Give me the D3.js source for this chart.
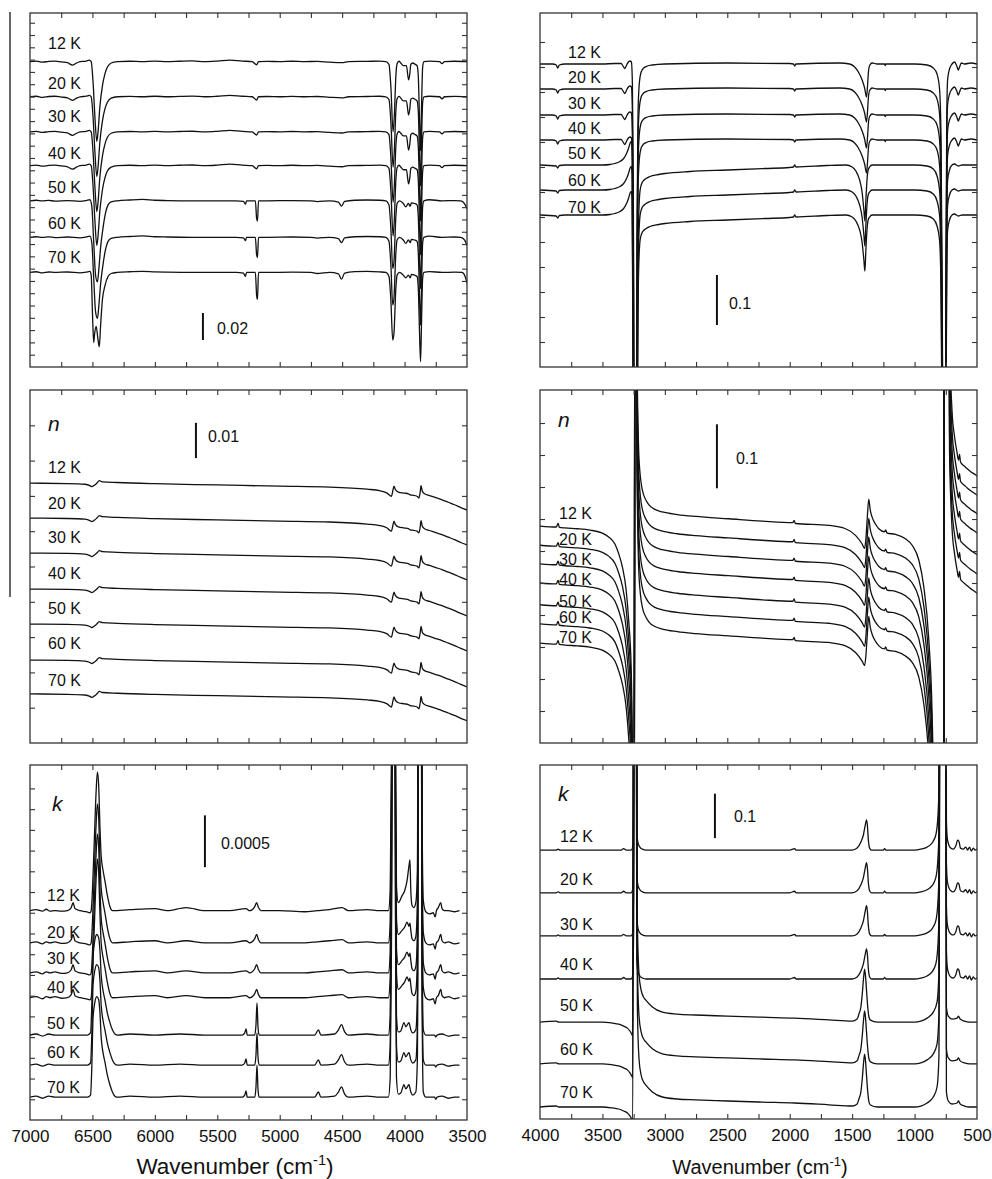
<!DOCTYPE html>
<html><head><meta charset="utf-8">
<script src="https://cdn.jsdelivr.net/npm/d3@7"></script>
<style>
body{margin:0;background:#fff;}
svg{display:block;font-family:"Liberation Sans",Arial,sans-serif;}
</style></head><body>
<svg id="chart" width="992" height="1179"></svg>
<script>
// ---------------- DATA ----------------
const TEMPS = ["12 K","20 K","30 K","40 K","50 K","60 K","70 K"];
const LEFT_TICK_LABELS = [7000,6500,6000,5500,5000,4500,4000,3500];
const RIGHT_TICK_LABELS = [4000,3500,3000,2500,2000,1500,1000,500];

// Panel A: transmission-like spectra, 7000-3500 cm-1 (offset for each temperature)
const A_offsets = [0.226,0.200,0.174,0.149,0.123,0.096,0.070];
const A_low = [[7000,0],[6950,0.0004],[6900,-0.0004],[6850,0.0002],[6800,0.0004],[6750,-0.0002],[6700,-0.0008],[6660,-0.0026],[6630,-0.0012],[6600,0],[6550,0.0004],[6525,0.0011],[6510,0],[6495,-0.015],[6480,-0.041],[6465,-0.059],[6455,-0.052],[6440,-0.033],[6420,-0.018],[6400,-0.009],[6380,-0.004],[6350,-0.001],[6300,0],[6200,0.0003],[6100,0],[6000,0.0004],[5900,0],[5800,0.0003],[5700,0.0005],[5600,0],[5500,0.0004],[5400,0.0011],[5300,0.0004],[5220,0],[5185,-0.0024],[5170,0],[5100,0.0002],[5000,0],[4900,0.0003],[4800,0],[4700,0.0002],[4600,-0.0004],[4500,-0.0008],[4450,0],[4300,0.0002],[4200,0.0004],[4150,0],[4125,-0.002],[4110,-0.018],[4092,-0.052],[4082,-0.040],[4070,-0.011],[4060,-0.0015],[4045,0.0003],[4030,-0.001],[4010,-0.003],[3985,-0.003],[3968,-0.0135],[3958,-0.009],[3950,-0.002],[3935,-0.001],[3915,-0.002],[3900,-0.003],[3890,-0.011],[3880,-0.044],[3872,-0.066],[3865,-0.037],[3855,-0.004],[3845,0],[3800,0.0004],[3720,0],[3700,-0.0015],[3680,0],[3600,0.0003],[3500,0]];
const A_mid = [[7000,0],[6950,0.0004],[6900,0],[6850,0.0003],[6800,-0.0002],[6700,0.0002],[6600,-0.0004],[6550,0.0002],[6520,0.0008],[6505,-0.004],[6490,-0.03],[6475,-0.055],[6460,-0.060],[6448,-0.05],[6435,-0.035],[6415,-0.02],[6395,-0.009],[6375,-0.003],[6350,-0.0008],[6300,0],[6200,0.0006],[6100,0.001],[6000,0.0004],[5900,0.0002],[5700,0],[5500,0],[5350,0],[5290,-0.0005],[5275,-0.0025],[5265,0],[5195,0],[5185,-0.013],[5178,-0.015],[5170,0],[5100,0],[4900,0.0002],[4750,0],[4700,-0.0006],[4600,0],[4530,-0.001],[4505,-0.004],[4480,-0.0005],[4400,0.0004],[4300,0.0006],[4200,0.0004],[4150,0],[4125,-0.003],[4110,-0.02],[4095,-0.05],[4085,-0.045],[4070,-0.012],[4060,-0.002],[4040,0],[4010,-0.002],[3990,-0.0045],[3970,-0.002],[3955,-0.004],[3945,-0.0015],[3920,-0.002],[3900,-0.003],[3890,-0.012],[3880,-0.045],[3872,-0.065],[3865,-0.04],[3855,-0.004],[3845,0],[3800,0.0008],[3700,0],[3600,0.0002],[3550,0],[3520,-0.002],[3500,-0.006]];
const A_high = [[7000,0],[6950,0.0005],[6900,-0.0003],[6850,0.0003],[6800,0],[6700,0.0003],[6600,-0.0003],[6550,0.0002],[6520,0.0008],[6510,-0.002],[6498,-0.035],[6490,-0.052],[6482,-0.045],[6470,-0.04],[6455,-0.05],[6445,-0.055],[6435,-0.04],[6420,-0.02],[6400,-0.01],[6375,-0.003],[6350,-0.0008],[6300,0],[6200,0.0005],[6100,0.0008],[6000,0.0004],[5900,0.0002],[5700,0],[5500,0],[5350,0],[5290,-0.0005],[5275,-0.003],[5265,0],[5195,0],[5185,-0.017],[5178,-0.020],[5170,0],[5100,0],[4900,0.0002],[4750,0],[4700,-0.0008],[4600,0],[4530,-0.001],[4505,-0.005],[4480,-0.0005],[4400,0.0006],[4300,0.0008],[4200,0.0004],[4150,0],[4125,-0.003],[4110,-0.02],[4095,-0.05],[4085,-0.045],[4070,-0.012],[4060,-0.002],[4040,0],[4010,-0.002],[3990,-0.004],[3970,-0.002],[3955,-0.004],[3945,-0.0015],[3920,-0.002],[3900,-0.003],[3890,-0.012],[3880,-0.045],[3872,-0.066],[3865,-0.04],[3855,-0.004],[3845,0],[3800,0.0006],[3700,0],[3600,0.0002],[3540,0],[3515,-0.003],[3500,-0.008]];
const A_profileOf = ["low","low","low","low","mid","mid","high"];

// Panel B: transmission-like spectra, 4000-500 cm-1
const B_offsets = [0.606,0.556,0.504,0.454,0.404,0.354,0.304];
const B_low = [[4000,0],[3900,0],[3870,-0.002],[3858,-0.008],[3845,-0.002],[3800,0],[3500,0],[3400,0.001],[3350,0.001],[3335,-0.004],[3322,-0.009],[3308,-0.003],[3295,0.003],[3280,0.006],[3268,0.004],[3260,-0.04],[3252,-0.3],[3245,-0.9],[3228,-0.9],[3222,-0.3],[3215,-0.1],[3205,-0.04],[3190,-0.016],[3170,-0.008],[3140,-0.004],[3100,-0.002],[3000,0],[2500,0.002],[2000,0.001],[1970,0],[1960,-0.004],[1950,0],[1600,0.002],[1520,0],[1480,-0.006],[1450,-0.016],[1420,-0.032],[1400,-0.048],[1385,-0.066],[1377,-0.045],[1368,-0.012],[1358,-0.002],[1340,0.002],[1300,0],[1240,0],[1235,-0.003],[1230,0],[1000,0],[900,-0.002],[850,-0.008],[820,-0.02],[800,-0.05],[788,-0.15],[778,-0.5],[770,-0.9],[752,-0.9],[748,-0.4],[742,-0.1],[735,-0.03],[720,-0.01],[700,0],[680,0.004],[662,-0.004],[650,-0.012],[640,-0.006],[625,0.002],[600,0],[550,0.002],[500,0]];
const B_high = [[4000,0],[3870,-0.002],[3858,-0.006],[3845,-0.001],[3800,0],[3500,0],[3440,0.001],[3400,0.003],[3360,0.007],[3330,0.013],[3305,0.024],[3290,0.034],[3278,0.044],[3268,0.047],[3262,0.03],[3255,-0.3],[3248,-0.9],[3225,-0.9],[3218,-0.3],[3210,-0.11],[3198,-0.05],[3180,-0.034],[3150,-0.027],[3120,-0.023],[3050,-0.019],[3000,-0.017],[2800,-0.013],[2500,-0.01],[2200,-0.007],[2000,-0.005],[1970,-0.004],[1960,0],[1950,-0.004],[1700,-0.001],[1550,0],[1500,-0.004],[1470,-0.012],[1440,-0.03],[1420,-0.055],[1406,-0.09],[1398,-0.112],[1390,-0.07],[1381,-0.03],[1372,-0.01],[1360,-0.004],[1340,0],[1300,0],[1000,0],[900,-0.002],[850,-0.008],[820,-0.022],[800,-0.05],[788,-0.15],[778,-0.5],[770,-0.9],[752,-0.9],[748,-0.4],[742,-0.1],[735,-0.03],[720,-0.01],[700,0],[680,0.002],[650,-0.002],[620,0],[500,0]];
const B_profileOf = ["low","low","low","low","high","high","high"];

// Panel C: refractive index n, 7000-3500 cm-1
const C_offsets = [0.0736,0.0637,0.0538,0.0436,0.0337,0.0235,0.0139];
const C_all = [[7000,0],[6700,-0.0001],[6560,-0.0003],[6520,-0.0007],[6505,-0.001],[6490,-0.0007],[6465,0],[6445,0.0007],[6420,0.0004],[6300,0.0002],[6000,-0.00014],[5500,-0.0005],[5000,-0.00085],[4600,-0.0011],[4300,-0.0017],[4200,-0.0021],[4140,-0.0028],[4105,-0.0037],[4095,-0.0023],[4085,-0.00085],[4075,-0.0017],[4050,-0.0025],[4000,-0.0028],[3970,-0.003],[3955,-0.0033],[3940,-0.0034],[3900,-0.0037],[3885,-0.0042],[3875,-0.0025],[3868,-0.0007],[3858,-0.0023],[3840,-0.003],[3800,-0.0035],[3750,-0.0041],[3700,-0.0047],[3650,-0.0054],[3600,-0.0061],[3550,-0.0069],[3500,-0.0076]];

// Panel D: refractive index n, 4000-500 cm-1
const D_offsets = [0.339,0.309,0.280,0.250,0.216,0.186,0.156];
const D_all = [[4000,0],[3870,-0.0015],[3855,0.004],[3845,-0.002],[3800,-0.003],[3700,-0.0042],[3600,-0.0063],[3500,-0.011],[3450,-0.017],[3400,-0.028],[3370,-0.043],[3340,-0.064],[3310,-0.1],[3290,-0.147],[3270,-0.22],[3258,-0.41],[3248,-0.8],[3238,0.8],[3232,0.5],[3222,0.25],[3210,0.12],[3195,0.075],[3180,0.056],[3150,0.04],[3127,0.033],[3080,0.026],[3020,0.022],[2900,0.018],[2754,0.015],[2487,0.0114],[2220,0.0078],[1975,0.0055],[1965,0.009],[1955,0.004],[1686,0.0011],[1553,-0.0042],[1473,-0.0145],[1420,-0.028],[1400,-0.035],[1390,-0.02],[1380,0.009],[1367,0.042],[1355,0.025],[1340,0.014],[1310,0.002],[1286,-0.0042],[1240,-0.009],[1232,-0.006],[1220,-0.011],[1153,-0.013],[1073,-0.02],[1019,-0.03],[966,-0.053],[926,-0.095],[886,-0.178],[860,-0.29],[845,-0.45],[830,-0.8],[768,-0.8],[762,0.8],[730,0.8],[720,0.3],[700,0.18],[680,0.14],[660,0.115],[648,0.103],[640,0.112],[632,0.1],[610,0.095],[592,0.092],[550,0.085],[512,0.08],[500,0.078]];

// Panel E: extinction coefficient k, 7000-3560 cm-1
const E_offsets = [0.00202,0.00171,0.00142,0.00118,0.00082,0.00053,0.00022];
const E_12 = [[7000,0],[6950,0.00001],[6900,-0.000005],[6870,0.000014],[6840,-0.000005],[6800,0],[6750,-0.000005],[6700,0],[6670,0.00003],[6655,0.000077],[6640,0.00002],[6600,0],[6550,-0.00001],[6520,-0.00002],[6510,0],[6500,0.00019],[6485,0.00068],[6470,0.00116],[6460,0.00134],[6450,0.00121],[6440,0.00082],[6430,0.00053],[6415,0.00039],[6400,0.00029],[6380,0.000145],[6360,0.00004],[6340,0],[6200,0.00001],[6000,0.00002],[5900,0],[5750,0.00003],[5600,0],[5400,0],[5270,0.00002],[5240,0],[5200,0.00004],[5185,0.000077],[5170,0.00003],[5150,0],[5000,0],[4800,-0.00001],[4700,0],[4600,0.00001],[4500,0.00003],[4450,0],[4300,0.00001],[4200,0],[4130,0],[4115,0.00019],[4105,0.00145],[4095,0.005],[4080,0.005],[4072,0.00145],[4065,0.00024],[4050,0.000077],[4020,0.000145],[4000,0.00019],[3980,0.00029],[3965,0.00043],[3957,0.00049],[3950,0.00019],[3940,0.00005],[3925,0.00003],[3910,0.000077],[3897,0.00039],[3888,0.005],[3868,0.005],[3860,0.00097],[3850,0.0001],[3830,-0.00001],[3800,-0.00003],[3770,-0.00002],[3755,-0.00006],[3745,0],[3730,0.00003],[3710,0.000077],[3700,0.00002],[3680,0],[3650,0],[3600,-0.00001],[3560,0]];
const E_low = [[7000,0],[6950,0.00001],[6900,-0.00001],[6870,0.00001],[6840,0],[6800,0.00001],[6750,-0.000005],[6700,0],[6670,0.00003],[6655,0.00008],[6640,0.00002],[6600,0],[6550,-0.00001],[6520,-0.00002],[6510,0],[6500,0.00019],[6485,0.00068],[6470,0.00116],[6460,0.00134],[6450,0.00121],[6440,0.00082],[6430,0.00053],[6415,0.00039],[6400,0.00029],[6380,0.000145],[6360,0.00004],[6340,0],[6200,0.00001],[6000,0.00002],[5900,0],[5750,0.00002],[5600,0],[5400,0],[5270,0.00002],[5240,0],[5200,0.00004],[5185,0.00008],[5170,0.00003],[5150,0],[5000,0],[4800,0],[4700,0.00001],[4600,0.00002],[4500,0.00003],[4450,0],[4300,0.00001],[4200,0],[4130,0],[4115,0.00019],[4105,0.00145],[4095,0.005],[4080,0.005],[4072,0.00145],[4065,0.00024],[4050,0.00008],[4020,0.00012],[4000,0.00015],[3980,0.0002],[3965,0.00016],[3957,0.00019],[3950,0.00012],[3940,0.00004],[3925,0.00002],[3910,0.00006],[3897,0.00039],[3888,0.005],[3868,0.005],[3860,0.00097],[3850,0.0001],[3830,0],[3800,-0.00002],[3770,-0.00001],[3755,-0.00006],[3745,0],[3730,0.00002],[3710,0.00008],[3700,0.00002],[3680,0],[3650,0.00001],[3600,-0.00001],[3560,0]];
const E_high = [[7000,0],[6950,0.00001],[6900,-0.00001],[6850,0.00001],[6800,0],[6700,0],[6600,0],[6540,0],[6515,0.00002],[6505,0.00029],[6495,0.00077],[6480,0.00092],[6465,0.00097],[6450,0.00094],[6440,0.00082],[6430,0.00058],[6415,0.00043],[6400,0.00034],[6380,0.00021],[6360,0.00012],[6340,0.00005],[6320,0.00001],[6300,0],[6200,0.00001],[6000,0],[5800,0.00001],[5600,0],[5400,0],[5300,0],[5280,0.00002],[5270,0.00006],[5260,0],[5200,0],[5190,0.0001],[5182,0.00031],[5174,0.00008],[5165,0],[5000,0],[4800,0],[4720,0],[4690,0.00005],[4670,0],[4560,0.00001],[4530,0.00005],[4505,0.0001],[4480,0.00003],[4450,0],[4300,0.00001],[4200,0],[4130,0],[4115,0.00019],[4105,0.00145],[4095,0.005],[4080,0.005],[4072,0.00145],[4065,0.00019],[4050,0.00003],[4030,0.00004],[4005,0.00012],[3990,0.00008],[3965,0.00012],[3950,0.00005],[3935,0.00002],[3910,0.00005],[3897,0.00039],[3888,0.005],[3868,0.005],[3860,0.00097],[3850,0.00005],[3830,0],[3760,0],[3750,-0.00002],[3740,0],[3700,0.00001],[3650,-0.00001],[3600,0],[3560,0]];
const E_profileOf = ["12","low","low","low","high","high","high"];

// Panel F: extinction coefficient k, 4000-500 cm-1
const F_offsets = [0.605,0.509,0.412,0.315,0.218,0.124,0.027];
const F_low = [[4000,0],[3870,0],[3855,0.0022],[3840,0],[3350,0],[3330,0.0034],[3310,0],[3270,0],[3258,0.0068],[3250,0.11],[3245,1.2],[3232,1.2],[3225,0.045],[3215,0.016],[3200,0.0068],[3180,0.0022],[3150,0],[2000,0],[1960,0.0034],[1950,0],[1500,0],[1460,0.0045],[1430,0.018],[1410,0.034],[1395,0.056],[1385,0.068],[1378,0.056],[1370,0.0225],[1360,0.0045],[1345,0],[1250,0],[1240,0.0034],[1230,0],[1000,0],[950,0.0022],[900,0.0068],[860,0.016],[830,0.034],[815,0.068],[805,0.135],[795,1.2],[750,1.2],[745,0.068],[738,0.027],[725,0.011],[710,0.0045],[690,0.0022],[670,0.009],[655,0.0225],[645,0.02],[632,0.0045],[610,0.0022],[590,0.0068],[575,0],[560,0.0068],[545,-0.0022],[530,0.0045],[515,0],[500,0.0022]];
const F_high = [[4000,0],[3870,0.0022],[3850,0],[3500,0],[3420,-0.0022],[3370,-0.0045],[3330,-0.009],[3300,-0.0135],[3280,-0.02],[3265,-0.027],[3257,-0.0315],[3250,1.2],[3230,1.2],[3220,0.225],[3207,0.108],[3190,0.072],[3170,0.056],[3154,0.05],[3100,0.034],[3020,0.0225],[2900,0.018],[2754,0.016],[2500,0.0135],[2220,0.011],[1960,0.009],[1686,0.005],[1500,0.0022],[1460,0.0068],[1446,0.018],[1430,0.034],[1419,0.063],[1408,0.101],[1400,0.119],[1392,0.101],[1385,0.072],[1375,0.034],[1365,0.011],[1353,0.0045],[1300,0],[1000,0],[950,0.0022],[900,0.009],[850,0.0225],[820,0.045],[805,0.1125],[795,1.2],[750,1.2],[745,0.034],[730,0.0135],[700,0.0068],[660,0.009],[648,0.0135],[635,0.0068],[600,0.0022],[560,0],[500,0]];
const F_profileOf = ["low","low","low","low","high","high","high"];

// ---------------- LAYOUT ----------------
const svg = d3.select("#chart");
const FONT = '"Liberation Sans", Arial, sans-serif';

const panels = [
  {id:"A", left:30, right:467, top:13, bottom:367, wn:[7000,3500], yDomain:[0,0.262], tickStep:0.0091,
   offsets:A_offsets, profiles:{low:A_low,mid:A_mid,high:A_high}, profileOf:A_profileOf,
   labelX:48, labelDy:[-18,-14,-16,-12,-14,-14,-15],
   bar:{w:5615, y0:0.02, value:0.02, text:"0.02", dx:14, dy:2}, sym:null},
  {id:"B", left:540, right:977, top:13, bottom:367, wn:[4000,500], yDomain:[0,0.708], tickStep:0.05,
   offsets:B_offsets, profiles:{low:B_low,high:B_high}, profileOf:B_profileOf,
   labelX:568, labelDy:[-12,-12,-12,-12,-12,-10,-8],
   bar:{w:2583, y0:0.084, value:0.1, text:"0.1", dx:12, dy:3}, sym:null},
  {id:"C", left:30, right:467, top:390, bottom:743, wn:[7000,3500], yDomain:[0,0.1], tickStep:0.01,
   offsets:C_offsets, profiles:{all:C_all}, profileOf:Array(7).fill("all"),
   labelX:48, labelDy:[-16,-15,-16,-16,-16,-17,-14],
   bar:{w:5671, y0:0.0807, value:0.01, text:"0.01", dx:12, dy:-4}, sym:{t:"n", x:48, y:423}},
  {id:"D", left:540, right:977, top:390, bottom:743, wn:[4000,500], yDomain:[0,0.5516], tickStep:0.05,
   offsets:D_offsets, profiles:{all:D_all}, profileOf:Array(7).fill("all"),
   labelX:559, labelDy:[-13,-6,-5,-4,-4,-7,-6],
   bar:{w:2583, y0:0.398, value:0.1, text:"0.1", dx:19, dy:2}, sym:{t:"n", x:558, y:419}},
  {id:"E", left:30, right:467, top:765, bottom:1120, wn:[7000,3500], yDomain:[0,0.003426], tickStep:0.0002,
   offsets:E_offsets, profiles:{"12":E_12,low:E_low,high:E_high}, profileOf:E_profileOf,
   labelX:47, labelDy:[-15,-11,-15,-10,-12,-13,-10],
   bar:{w:5599, y0:0.00244, value:0.0005, text:"0.0005", dx:16, dy:2}, sym:{t:"k", x:52, y:803},
   tickLabels:LEFT_TICK_LABELS, title:{cx:235, size:22.5}},
  {id:"F", left:540, right:977, top:765, bottom:1119, wn:[4000,500], yDomain:[0,0.7965], tickStep:0.7,
   offsets:F_offsets, profiles:{low:F_low,high:F_high}, profileOf:F_profileOf,
   labelX:560, labelDy:[-14,-14,-12,-15,-17,-15,-15],
   bar:{w:2599, y0:0.632, value:0.1, text:"0.1", dx:19, dy:0}, sym:{t:"k", x:558, y:793},
   tickLabels:RIGHT_TICK_LABELS, title:{cx:760, size:20}}
];

// stray vertical rule at the far left of the figure
svg.append("line").attr("x1",10).attr("x2",10).attr("y1",12).attr("y2",597)
  .attr("stroke","#000").attr("stroke-width",1.2);

const defs = svg.append("defs");

panels.forEach(cfg => {
  const x = d3.scaleLinear().domain(cfg.wn).range([cfg.left, cfg.right]);
  const y = d3.scaleLinear().domain(cfg.yDomain).range([cfg.bottom, cfg.top]);
  const g = svg.append("g").attr("class","panel-"+cfg.id);

  defs.append("clipPath").attr("id","clip"+cfg.id).append("rect")
    .attr("x",cfg.left).attr("y",cfg.top)
    .attr("width",cfg.right-cfg.left).attr("height",cfg.bottom-cfg.top);

  const line = d3.line().x(d=>x(d[0])).y(d=>y(d[1])).curve(d3.curveMonotoneX);

  const traces = g.append("g").attr("clip-path","url(#clip"+cfg.id+")");
  cfg.offsets.forEach((off,i) => {
    const prof = cfg.profiles[cfg.profileOf[i]];
    traces.append("path")
      .datum(prof.map(p => [p[0], p[1] + off]))
      .attr("d", line)
      .attr("fill","none").attr("stroke","#111").attr("stroke-width",1.3)
      .attr("stroke-linejoin","round");
  });

  // frame
  g.append("rect").attr("x",cfg.left).attr("y",cfg.top)
    .attr("width",cfg.right-cfg.left).attr("height",cfg.bottom-cfg.top)
    .attr("fill","none").attr("stroke","#333").attr("stroke-width",1.3);

  // ticks
  const [w0,w1] = cfg.wn;
  const xt = d3.range(Math.min(w0,w1)+250, Math.max(w0,w1), 250);
  const yt = d3.range(cfg.tickStep, cfg.yDomain[1]-cfg.tickStep*0.3, cfg.tickStep);
  const styleAxis = sel => { sel.select(".domain").remove(); sel.selectAll("line").attr("stroke","#333").attr("stroke-width",1.1); };
  g.append("g").attr("transform",`translate(0,${cfg.bottom})`)
    .call(d3.axisBottom(x).tickValues(xt).tickSize(-5).tickFormat("")).call(styleAxis);
  g.append("g").attr("transform",`translate(0,${cfg.top})`)
    .call(d3.axisTop(x).tickValues(xt).tickSize(-5).tickFormat("")).call(styleAxis);
  g.append("g").attr("transform",`translate(${cfg.left},0)`)
    .call(d3.axisLeft(y).tickValues(yt).tickSize(-5).tickFormat("")).call(styleAxis);
  g.append("g").attr("transform",`translate(${cfg.right},0)`)
    .call(d3.axisRight(y).tickValues(yt).tickSize(-5).tickFormat("")).call(styleAxis);

  if (cfg.tickLabels) {
    const ax = g.append("g").attr("transform",`translate(0,${cfg.bottom})`)
      .call(d3.axisBottom(x).tickValues(cfg.tickLabels).tickSize(0).tickPadding(10).tickFormat(d3.format("d")));
    ax.select(".domain").remove();
    ax.attr("font-family",FONT).attr("font-size",17);
    ax.selectAll("text").attr("fill","#111");
    const title = g.append("text")
      .attr("x", cfg.title.cx).attr("y",1174)
      .attr("text-anchor","middle").attr("font-size",cfg.title.size).attr("fill","#111");
    title.append("tspan").text("Wavenumber (cm");
    title.append("tspan").attr("font-size",cfg.title.size*0.65).attr("dy",-cfg.title.size*0.4).text("-1");
    title.append("tspan").attr("dy",cfg.title.size*0.4).text(")");
  }

  // temperature labels
  cfg.offsets.forEach((off,i) => {
    g.append("text").attr("x",cfg.labelX).attr("y", y(off) + cfg.labelDy[i])
      .attr("dy","0.36em").attr("font-size",16).attr("fill","#111").text(TEMPS[i]);
  });

  // scale bar
  const b = cfg.bar;
  g.append("line").attr("x1",x(b.w)).attr("x2",x(b.w))
    .attr("y1",y(b.y0)).attr("y2",y(b.y0+b.value))
    .attr("stroke","#111").attr("stroke-width",2);
  g.append("text").attr("x",x(b.w)+b.dx).attr("y",(y(b.y0)+y(b.y0+b.value))/2 + b.dy)
    .attr("dy","0.36em").attr("font-size",16).attr("fill","#111").text(b.text);

  if (cfg.sym) {
    g.append("text").attr("x",cfg.sym.x).attr("y",cfg.sym.y).attr("dy","0.36em")
      .attr("font-size",21).attr("font-style","italic").attr("fill","#111").text(cfg.sym.t);
  }
});
</script>
</body></html>
